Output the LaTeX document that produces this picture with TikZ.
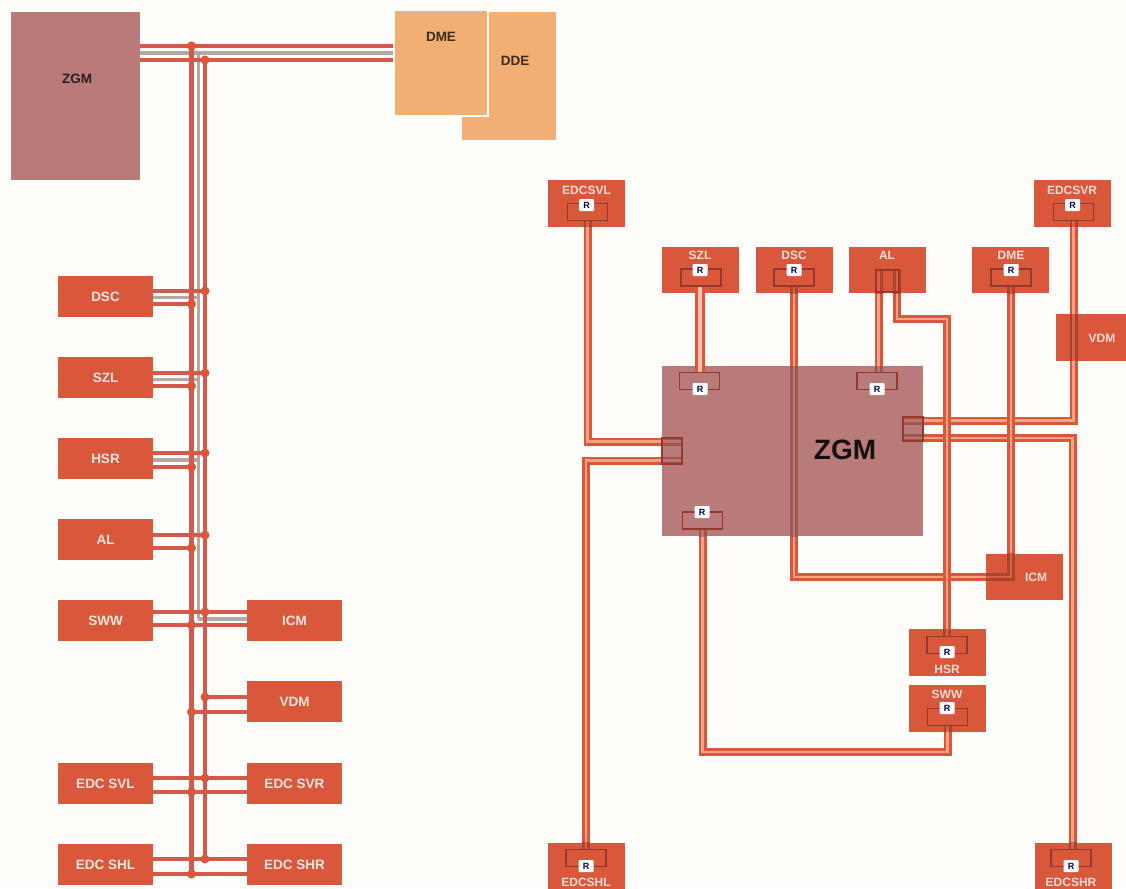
\documentclass[tikz,border=0pt]{standalone}
\usepackage{fontspec}
\setmainfont{Liberation Sans}
\definecolor{bgc}{HTML}{FFFDFA}
\definecolor{red1}{HTML}{D9573A}
\definecolor{busr}{HTML}{D5594A}
\definecolor{rose}{HTML}{B97A7A}
\definecolor{sand}{HTML}{F3AE74}
\definecolor{core}{HTML}{F5A287}
\definecolor{pindark}{HTML}{96392A}
\definecolor{greyc}{HTML}{B5A8A2}
\definecolor{overzgm}{HTML}{A05650}
\definecolor{overzgmc}{HTML}{BA7670}
\tikzset{
  ecu/.style={fill=red1,draw=none,inner sep=0pt,text=white!85!red1,font=\bfseries\fontsize{13.5}{15}\selectfont,minimum width=95pt,minimum height=41pt},
  ecr/.style={fill=red1,draw=none,inner sep=0pt,minimum width=77pt,minimum height=46.5pt},
  lbl/.style={inner sep=0pt,text=white!80!red1,font=\bfseries\fontsize{12}{14}\selectfont},
  pin/.style={inner sep=0pt,outer sep=0pt,minimum width=40pt,minimum height=17pt},
  pinline/.style={draw=pindark,line width=1.8pt},
  rbox/.style={fill=white,rounded corners=1pt,inner sep=0pt,minimum width=15pt,minimum height=12pt,text=black!70!blue,font=\bfseries\fontsize{9}{10}\selectfont},
  bus/.style={draw=busr,line width=4.2pt},
  thin stripe/.style={draw=greyc,line width=3.4pt},
  dotj/.style={circle,fill=red1,inner sep=0pt,minimum size=9pt},
  co/.style={draw=red1,line width=8pt},
  ci/.style={draw=core,line width=2.8pt}
}
\newcommand{\cc}[1]{\draw[co] #1; \draw[ci] #1;}
\newcommand{\allcables}{%
\cc{(psvl.south) |- (bl.east |- 0,441.5)}
\cc{(pshl.north) |- (bl.east |- 0,460.5)}
\cc{(psvr.south) |- (br.west |- 0,420.5)}
\cc{(pshr.north -| 1072.5,0) |- (br.west |- 0,438)}
\cc{(pdsc.south) |- (pdme.south |- ricm.center) -- (pdme.south)}
\cc{(pzsww.south) |- (psww.south |- 0,752) -- (psww.south)}
\cc{(pal.north -| 878.5,0) -- (pzal.north -| 878.5,0)}
\cc{(pal.north -| 897,0) |- (phsr.north |- 0,319) -- (phsr.north)}
}
\begin{document}
\begin{tikzpicture}[x=1pt,y=-1pt]
\useasboundingbox (0,0) rectangle (1126,888);
\fill[bgc] (0,0) rectangle (1126,888);
% left part: units
\node[fill=rose,minimum width=129pt,minimum height=168pt,inner sep=0pt] (zgma) at (75.5,96) {};
\node[inner sep=0pt,text=black!75!rose,font=\bfseries\fontsize{13.5}{15}\selectfont] (zgmat) at (77,79) {ZGM};
\node[fill=sand,minimum width=94pt,minimum height=128pt,inner sep=0pt] (dde) at (509,76) {};
\node[fill=sand,draw=bgc,line width=1.5pt,minimum width=94pt,minimum height=106pt,inner sep=0pt] (dme) at (441,63) {};
\fill[bgc] (380,0) rectangle (570,11.5);
\node[inner sep=0pt,text=black!75!sand,font=\bfseries\fontsize{13.5}{15}\selectfont] (dmet) at (441,37) {DME};
\node[inner sep=0pt,text=black!75!sand,font=\bfseries\fontsize{13.5}{15}\selectfont] (ddet) at (515,61) {DDE};
\node[ecu] (dsc) at (105.5,296.5) {DSC};
\node[ecu] (szl) at (105.5,377.5) {SZL};
\node[ecu] (hsr) at (105.5,458.5) {HSR};
\node[ecu] (al) at (105.5,539.5) {AL};
\node[ecu] (sww) at (105.5,620.5) {SWW};
\node[ecu] (svl) at (105.5,783.5) {EDC SVL};
\node[ecu] (shl) at (105.5,864.5) {EDC SHL};
\node[ecu] (icm) at (294.5,620.5) {ICM};
\node[ecu] (vdm) at (294.5,701.5) {VDM};
\node[ecu] (svr) at (294.5,783.5) {EDC SVR};
\node[ecu] (shr) at (294.5,864.5) {EDC SHR};
% named bus taps
\coordinate (ba) at (191.5,46);
\coordinate (bb) at (205,60);
\coordinate (bm) at (198.2,53);
\coordinate (baend) at (191.5,874);
\coordinate (bbend) at (205,859);
\coordinate (bmend) at (198.2,619);
% grey centre stripes
\draw[thin stripe] (zgma.east |- bm) -- (dme.west |- bm);
\draw[thin stripe] (bm) -- (bmend);
\foreach \n/\y in {dsc/297.5,szl/379.5,hsr/460}{\draw[thin stripe] (\n.east |- 0,\y) -- (198.2,\y);}
\draw[thin stripe] (bmend) -- (icm.west |- bmend);
% busses
\draw[bus] (zgma.east |- ba) -- (dme.west |- ba);
\draw[bus] (zgma.east |- bb) -- (dme.west |- bb);
\draw[bus] (ba) -- (baend);
\draw[bus] (bb) -- (bbend);
\foreach \n/\ya/\yb in {dsc/291/304,szl/373/386,hsr/453/467,al/535/548,sww/612/625,svl/778/792,shl/859/874}{
  \draw[bus] (\n.east |- 0,\ya) -- (205,\ya);
  \draw[bus] (\n.east |- 0,\yb) -- (191.5,\yb);
  \node[dotj] (d\n a) at (205,\ya) {};
  \node[dotj] (d\n b) at (191.5,\yb) {};
}
\foreach \n/\ya/\yb in {icm/612/625,vdm/697/712,svr/778/792,shr/859/874}{
  \draw[bus] (\n.west |- 0,\ya) -- (205,\ya);
  \draw[bus] (\n.west |- 0,\yb) -- (191.5,\yb);
}
\node[dotj] (dva) at (205,697) {};
\node[dotj] (dvb) at (191.5,712) {};
\node[dotj] (dta) at (ba) {};
\node[dotj] (dtb) at (bb) {};
% right part: boxes
\node[ecr] (rsvl) at (586.5,203.5) {};
\node[ecr] (rszl) at (700.5,270) {};
\node[ecr] (rdsc) at (794.5,270) {};
\node[ecr] (ral) at (887.5,270) {};
\node[ecr] (rdme) at (1010.5,270) {};
\node[ecr] (rsvr) at (1072.5,203.5) {};
\node[ecr] (ricm) at (1024.5,577) {};
\node[ecr] (rhsr) at (947.5,652.5) {};
\node[ecr] (rsww) at (947.5,708.5) {};
\node[ecr] (rshl) at (586,866) {};
\node[ecr] (rshr) at (1073.5,866) {};
\node[ecr,minimum width=70pt] (rvdm) at (1091,337.5) {};
\node[fill=rose,inner sep=0pt,outer sep=0pt,minimum width=261pt,minimum height=170pt] (rzgm) at (792.5,451) {};
% pins (placed, outlined after the cables)
\node[pin] (psvl) at (587.5,212) {};
\node[pin] (pszl) at (701,277.5) {};
\node[pin] (pdsc) at (794,277.5) {};
\node[pin] (pdme) at (1011,277.5) {};
\node[pin] (psvr) at (1073.5,212) {};
\node[pin] (pzszl) at (699.5,381) {};
\node[pin] (pzal) at (877,381) {};
\node[pin] (pzsww) at (702.5,520.5) {};
\node[pin] (phsr) at (947,645) {};
\node[pin] (psww) at (947.5,717) {};
\node[pin] (pshl) at (586,858) {};
\node[pin] (pshr) at (1071,858) {};
\node[pin,minimum width=23pt,minimum height=22pt] (pal) at (887.5,281) {};
\node[pin,minimum width=20pt,minimum height=26pt] (bl) at (672,451) {};
\node[pin,minimum width=20pt,minimum height=24pt] (br) at (913,429) {};
% connectors
\allcables
\draw[draw=red1,line width=3pt] (pszl.south -| 696.5,0) -- (pzszl.north -| 696.5,0);
\draw[draw=red1,line width=3pt] (pszl.south -| 703.5,0) -- (pzszl.north -| 703.5,0);
\draw[draw=core!70!white,line width=4pt] (pszl.south -| 700,0) -- (pzszl.north -| 700,0);
% the stretches of cable that run over a box show darker
\begin{scope}
\clip (rzgm.north west) rectangle (rzgm.south east);
\tikzset{co/.style={draw=overzgm,line width=8pt},ci/.style={draw=overzgmc,line width=2.8pt}}
\allcables
\end{scope}
\foreach \b in {rsvl,rszl,rdsc,ral,rdme,rsvr,ricm,rhsr,rsww,rshl,rshr,rvdm}{
\begin{scope}
\clip (\b.north west) rectangle (\b.south east);
\tikzset{co/.style={draw=red1!78!black,line width=8pt},ci/.style={draw=red1!95!white,line width=2.8pt}}
\allcables
\end{scope}}
% pin outlines
\foreach \p in {psvl,pszl,pdsc,pdme,psvr,pzszl,pzal,pzsww,phsr,psww,pshl,pshr,pal,bl,br}{
  \draw[pinline] (\p.north west) rectangle (\p.south east);
}
% R tags
\foreach \n/\x/\y in {a/586.5/205,b/700/270,c/794/270,d/1011/270,e/1072.5/205,f/700/389,g/877/389,h/702/512,i/947/652,j/947/708,k/586/866,l/1071/866}{
  \node[rbox] (r\n) at (\x,\y) {R};
}
% right labels
\node[lbl] (t1) at (586.5,190) {EDCSVL};
\node[lbl] (t2) at (700,255) {SZL};
\node[lbl] (t3) at (794,255) {DSC};
\node[lbl] (t4) at (887,255) {AL};
\node[lbl] (t5) at (1011,255) {DME};
\node[lbl] (t6) at (1072,190) {EDCSVR};
\node[lbl] (t7) at (1102,338) {VDM};
\node[lbl] (t8) at (1036,577) {ICM};
\node[lbl] (t9) at (947,669) {HSR};
\node[lbl] (t10) at (947,694) {SWW};
\node[lbl] (t11) at (586,882) {EDCSHL};
\node[lbl] (t12) at (1071,882) {EDCSHR};
\node[inner sep=0pt,text=black!88!rose,font=\bfseries\fontsize{28}{30}\selectfont] (zt) at (845,449.5) {ZGM};
\end{tikzpicture}
\end{document}
